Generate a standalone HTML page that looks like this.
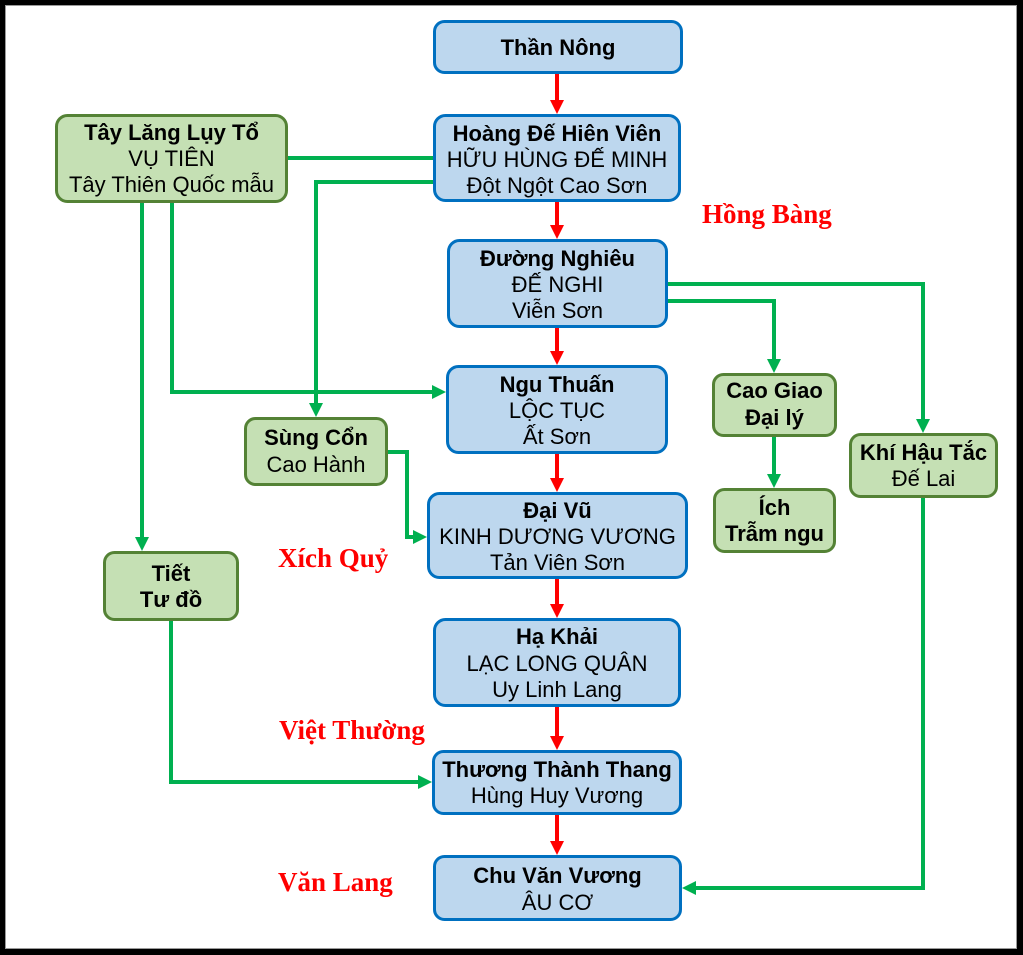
<!DOCTYPE html>
<html>
<head>
<meta charset="utf-8">
<style>
  html,body{margin:0;padding:0;background:#000;}
  svg{display:block;}
  .t{font-family:"Liberation Sans",Arial,sans-serif;font-size:22px;fill:#000;text-anchor:middle;}
  .b{font-weight:bold;}
  .r{font-family:"Liberation Serif","Times New Roman",serif;font-size:27px;font-weight:bold;fill:#FF0000;}
</style>
</head>
<body>
<svg width="1023" height="955" viewBox="0 0 1023 955" xmlns="http://www.w3.org/2000/svg">
  <rect x="0" y="0" width="1023" height="955" fill="#000"/>
  <rect x="5" y="5" width="1012" height="944" fill="#9a9a9a"/>
  <rect x="6" y="6" width="1010" height="942" fill="#fff"/>

  <!-- Green connectors -->
  <g fill="none" stroke="#00B050" stroke-width="4">
    <polyline points="288,158 435,158"/>
    <polyline points="437,182 316,182 316,405"/>
    <polyline points="172,203 172,392 434,392"/>
    <polyline points="142,203 142,539"/>
    <polyline points="388,452 407,452 407,537 415,537"/>
    <polyline points="171,621 171,782 420,782"/>
    <polyline points="668,284 923,284 923,421"/>
    <polyline points="665,301 774,301 774,361"/>
    <polyline points="774,437 774,476"/>
    <polyline points="923,498 923,888 694,888"/>
  </g>
  <g fill="#00B050">
    <polygon points="309,403 323,403 316,417"/>
    <polygon points="432,385 432,399 446,392"/>
    <polygon points="135,537 149,537 142,551"/>
    <polygon points="413,530 413,544 427,537"/>
    <polygon points="418,775 418,789 432,782"/>
    <polygon points="916,419 930,419 923,433"/>
    <polygon points="767,359 781,359 774,373"/>
    <polygon points="767,474 781,474 774,488"/>
    <polygon points="696,881 696,895 682,888"/>
  </g>

  <!-- Red arrows -->
  <g stroke="#FF0000" stroke-width="4">
    <line x1="557" y1="74" x2="557" y2="101"/>
    <line x1="557" y1="202" x2="557" y2="226"/>
    <line x1="557" y1="328" x2="557" y2="352"/>
    <line x1="557" y1="454" x2="557" y2="479"/>
    <line x1="557" y1="579" x2="557" y2="605"/>
    <line x1="557" y1="707" x2="557" y2="737"/>
    <line x1="557" y1="815" x2="557" y2="842"/>
  </g>
  <g fill="#FF0000">
    <polygon points="550,100 564,100 557,114"/>
    <polygon points="550,225 564,225 557,239"/>
    <polygon points="550,351 564,351 557,365"/>
    <polygon points="550,478 564,478 557,492"/>
    <polygon points="550,604 564,604 557,618"/>
    <polygon points="550,736 564,736 557,750"/>
    <polygon points="550,841 564,841 557,855"/>
  </g>

  <!-- Blue boxes -->
  <g fill="#BDD7EE" stroke="#0070C0" stroke-width="3">
    <rect x="434.5" y="21.5" width="247" height="51" rx="10"/>
    <rect x="434.5" y="115.5" width="245" height="85" rx="11"/>
    <rect x="448.5" y="240.5" width="218" height="86" rx="11"/>
    <rect x="447.5" y="366.5" width="219" height="86" rx="11"/>
    <rect x="428.5" y="493.5" width="258" height="84" rx="11"/>
    <rect x="434.5" y="619.5" width="245" height="86" rx="11"/>
    <rect x="433.5" y="751.5" width="247" height="62" rx="10"/>
    <rect x="434.5" y="856.5" width="246" height="63" rx="10"/>
  </g>

  <!-- Green boxes -->
  <g fill="#C5E0B4" stroke="#548235" stroke-width="3">
    <rect x="56.5" y="115.5" width="230" height="86" rx="11"/>
    <rect x="245.5" y="418.5" width="141" height="66" rx="10"/>
    <rect x="104.5" y="552.5" width="133" height="67" rx="10"/>
    <rect x="713.5" y="374.5" width="122" height="61" rx="10"/>
    <rect x="714.5" y="489.5" width="120" height="62" rx="10"/>
    <rect x="850.5" y="434.5" width="146" height="62" rx="10"/>
  </g>

  <!-- Blue box text -->
  <text class="t b" x="558" y="55">Thần Nông</text>

  <text class="t b" x="557" y="141">Hoàng Đế Hiên Viên</text>
  <text class="t" x="557" y="167">HỮU HÙNG ĐẾ MINH</text>
  <text class="t" x="557" y="193">Đột Ngột Cao Sơn</text>

  <text class="t b" x="557.5" y="266">Đường Nghiêu</text>
  <text class="t" x="557.5" y="292">ĐẾ NGHI</text>
  <text class="t" x="557.5" y="318">Viễn Sơn</text>

  <text class="t b" x="557" y="392">Ngu Thuấn</text>
  <text class="t" x="557" y="418">LỘC TỤC</text>
  <text class="t" x="557" y="444">Ất Sơn</text>

  <text class="t b" x="557.5" y="518">Đại Vũ</text>
  <text class="t" x="557.5" y="544">KINH DƯƠNG VƯƠNG</text>
  <text class="t" x="557.5" y="570">Tản Viên Sơn</text>

  <text class="t b" x="557" y="644">Hạ Khải</text>
  <text class="t" x="557" y="671">LẠC LONG QUÂN</text>
  <text class="t" x="557" y="697">Uy Linh Lang</text>

  <text class="t b" x="557" y="777">Thương Thành Thang</text>
  <text class="t" x="557" y="803">Hùng Huy Vương</text>

  <text class="t b" x="557.5" y="883">Chu Văn Vương</text>
  <text class="t" x="557.5" y="910">ÂU CƠ</text>

  <!-- Green box text -->
  <text class="t b" x="171.5" y="140">Tây Lăng Lụy Tổ</text>
  <text class="t" x="171.5" y="166">VỤ TIÊN</text>
  <text class="t" x="171.5" y="192">Tây Thiên Quốc mẫu</text>

  <text class="t b" x="316" y="445">Sùng Cổn</text>
  <text class="t" x="316" y="472">Cao Hành</text>

  <text class="t b" x="171" y="581">Tiết</text>
  <text class="t b" x="171" y="607">Tư đồ</text>

  <text class="t b" x="774.5" y="398">Cao Giao</text>
  <text class="t b" x="774.5" y="425">Đại lý</text>

  <text class="t b" x="774.5" y="515">Ích</text>
  <text class="t b" x="774.5" y="541">Trẫm ngu</text>

  <text class="t b" x="923.5" y="460">Khí Hậu Tắc</text>
  <text class="t" x="923.5" y="486">Đế Lai</text>

  <!-- Red labels -->
  <text class="r" x="702" y="223">Hồng Bàng</text>
  <text class="r" x="278" y="567">Xích Quỷ</text>
  <text class="r" x="279" y="739">Việt Thường</text>
  <text class="r" x="278" y="891">Văn Lang</text>
</svg>
</body>
</html>
